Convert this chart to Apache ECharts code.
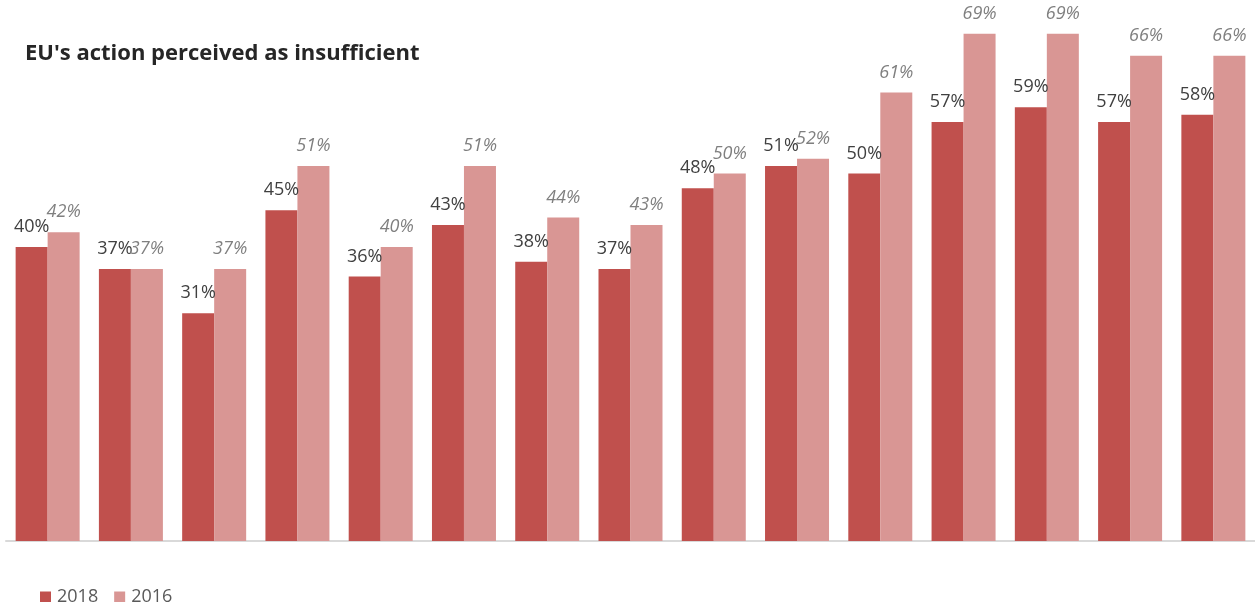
<!DOCTYPE html>
<html><head><meta charset="utf-8">
<script src="https://cdn.jsdelivr.net/npm/echarts@6/dist/echarts.min.js"></script>
<style>html,body{margin:0;padding:0;background:#fff}#c{width:1255px;height:602px}</style>
</head><body><div id="c"></div>
<script>
var categories = ['1','2','3','4','5','6','7','8','9','10','11','12','13','14','15'];
var values2018 = [40,37,31,45,36,43,38,37,48,51,50,57,59,57,58];
var values2016 = [42,37,37,51,40,51,44,43,50,52,61,69,69,66,66];
var seriesNames = ['2018','2016'];
var titleText = "EU's action perceived as insufficient";

var FONT = '"Open Sans", "Noto Sans", sans-serif';
var chart = echarts.init(document.getElementById('c'), null, {renderer:'canvas'});
chart.setOption({
  animation:false,
  title:{text:titleText,left:20,top:38,textStyle:{fontFamily:FONT,fontSize:22,fontWeight:'bold',color:'#262626'}},
  legend:{left:35,top:583,itemWidth:11,itemHeight:11,itemGap:16,icon:'rect',
    textStyle:{fontFamily:FONT,fontSize:18,color:'#595959',padding:[0,0,0,1]},data:seriesNames},
  grid:{left:6,top:0,width:1251,height:541,containLabel:false},
  xAxis:{type:'category',data:categories,axisTick:{show:false},axisLabel:{show:false},
    axisLine:{show:true,lineStyle:{color:'#D9D9D9',width:2}}},
  yAxis:{type:'value',min:0,max:73.6,show:false,splitLine:{show:false}},
  series:[
    {name:seriesNames[0],type:'bar',data:values2018,barWidth:32,barGap:'0%',
     itemStyle:{color:'#C0504D'},
     label:{show:true,position:'top',distance:11,formatter:'{c}%',fontFamily:FONT,fontSize:18,color:'#404040'}},
    {name:seriesNames[1],type:'bar',data:values2016,barWidth:32,
     itemStyle:{color:'#D99694'},
     label:{show:true,position:'top',distance:11,formatter:'{c}%',fontFamily:FONT,fontSize:18,fontStyle:'italic',color:'#7F7F7F'}}
  ]
});
</script></body></html>
